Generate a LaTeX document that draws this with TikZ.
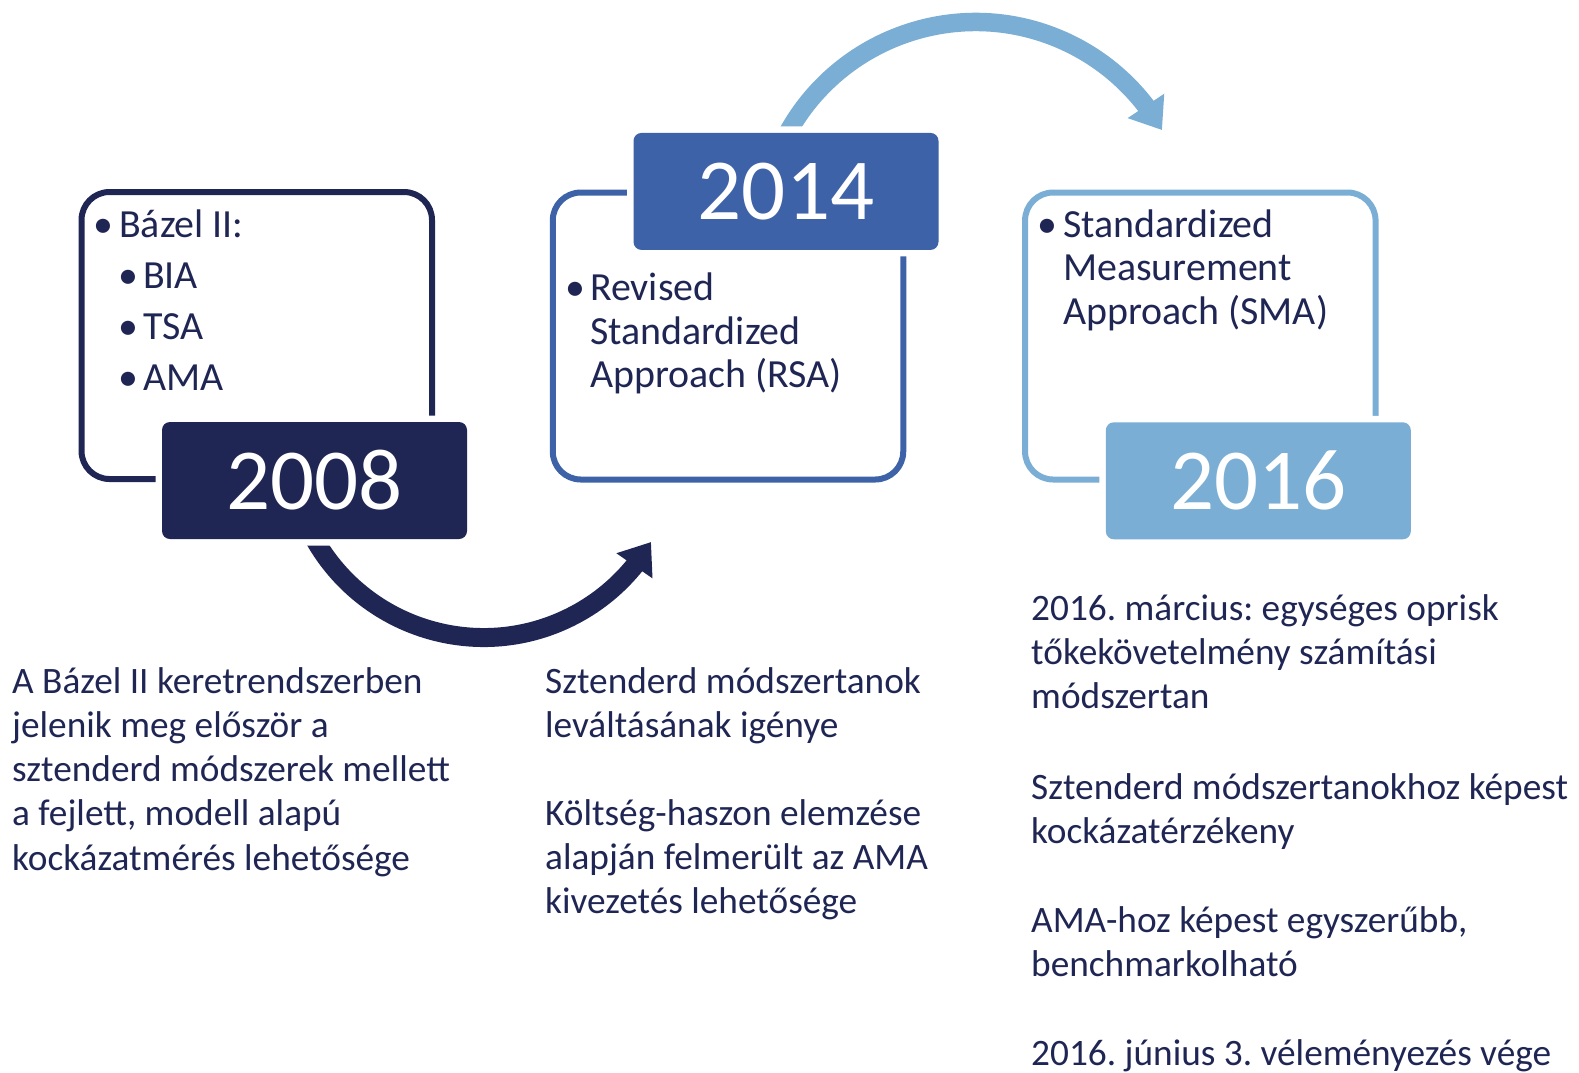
\documentclass[tikz,border=0pt]{standalone}
\usepackage{fontspec}
\setmainfont{Carlito}
\usetikzlibrary{arrows.meta,bending}
\definecolor{navy}{HTML}{1F2654}
\definecolor{midblue}{HTML}{3D62A7}
\definecolor{lightblue}{HTML}{7BAED4}
\newcommand{\mylines}[1]{\begin{tabular}[t]{@{}l@{}}#1\end{tabular}}
\frenchspacing
\tikzset{
  outbox/.style={draw, line width=6pt, rounded corners=28pt, minimum width=350.5pt, minimum height=287pt, inner sep=0pt},
  yearbox/.style={rounded corners=8pt, minimum width=305pt, minimum height=117pt, inner sep=0pt, text=white,
    font=\fontsize{87}{100}\selectfont, preaction={draw=white, line width=13pt}},
  boxtxt/.style={inner sep=0pt, text=navy, font=\fontsize{39.9}{43.6}\selectfont},
  bultxt/.style={boxtxt, anchor=base},
  itemtxt/.style={boxtxt, anchor=base west},
  bodytxt/.style={inner sep=0pt, text=navy, anchor=base west, font=\fontsize{37.3}{44.3}\selectfont},
  arcarrow/.style={line width=19pt, -{Triangle[width=42pt,length=29pt]}}
}
\begin{document}
\begin{tikzpicture}[x=1pt,y=-1pt]
\useasboundingbox (0,0) rectangle (1579,1072);
% outline boxes
\node[outbox, draw=navy] (b2008) at (256.75,335.5) {};
\node[outbox, draw=midblue] (b2014) at (728,336) {};
\node[outbox, draw=lightblue] (b2016) at (1200.3,336) {};
% curved arrows
\coordinate (c1) at (483.6,443);
\coordinate (c2) at (975.6,236.8);
\draw[arcarrow, navy] ([shift={(152:194.5)}]c1) arc[start angle=152, end angle=30.6, radius=194.5];
\draw[arcarrow, lightblue, line width=18.5pt] ([shift={(-153:214.8)}]c2) arc[start angle=-153, end angle=-29.8, radius=214.8];
% year boxes
\node[yearbox, fill=navy] (y2008) at (314.5,480.5) {2008};
\node[yearbox, fill=midblue] (y2014) at (786,191.4) {2014};
\node[yearbox, fill=lightblue] (y2016) at (1258.3,480.8) {2016};
% box texts
\node[bultxt] (p1) at (103,237) {•};
\node[itemtxt] (t1) at (119,237) {Bázel II:};
\node[bultxt] (p2) at (128,288) {•};
\node[itemtxt] (t2) at (143,288) {BIA};
\node[bultxt] (p3) at (128,339) {•};
\node[itemtxt] (t3) at (143,339) {TSA};
\node[bultxt] (p4) at (128,390) {•};
\node[itemtxt] (t4) at (143,390) {AMA};
\node[bultxt] (p5) at (575,300.5) {•};
\node[itemtxt] (t5) at (590,300.5) {\mylines{Revised\\Standardized\\Approach (RSA)}};
\node[bultxt] (p6) at (1047,237) {•};
\node[itemtxt] (t6) at (1063,237) {\mylines{Standardized\\Measurement\\Approach (SMA)}};
% bottom texts
\node[bodytxt] (d1) at (12,693) {\mylines{A Bázel II keretrendszerben\\jelenik meg először a\\sztenderd módszerek mellett\\a fejlett, modell alapú\\kockázatmérés lehetősége}};
\node[bodytxt] (d2) at (545,693) {\mylines{Sztenderd módszertanok\\leváltásának igénye}};
\node[bodytxt] (d3) at (545,825) {\mylines{Költség-haszon elemzése\\alapján felmerült az AMA\\kivezetés lehetősége}};
\node[bodytxt] (d4) at (1031,620) {\mylines{2016. március: egységes oprisk\\tőkekövetelmény számítási\\módszertan}};
\node[bodytxt] (d5) at (1031,799) {\mylines{Sztenderd módszertanokhoz képest\\kockázatérzékeny}};
\node[bodytxt] (d6) at (1031,932) {\mylines{AMA-hoz képest egyszerűbb,\\benchmarkolható}};
\node[bodytxt] (d7) at (1031,1065) {2016. június 3. véleményezés vége};
\end{tikzpicture}
\end{document}
